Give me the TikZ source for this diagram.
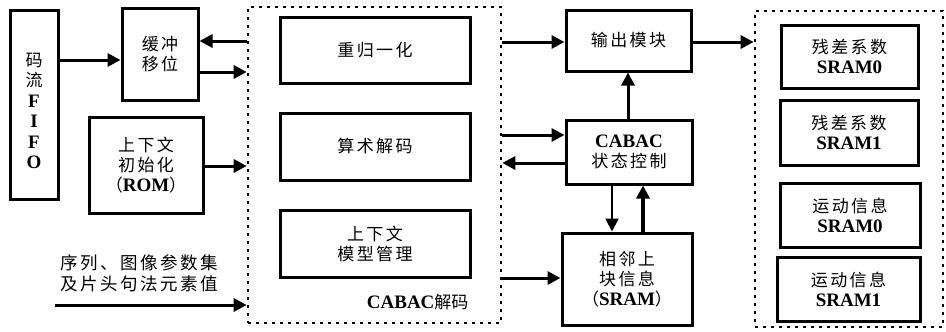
\documentclass[tikz,border=0pt]{standalone}
\usepackage{fontspec}
\setmainfont{Liberation Serif}
\newfontfamily\cjk[LetterSpace=14]{Noto Sans CJK SC}
\newfontfamily\cjktight{Noto Sans CJK SC}
\usetikzlibrary{arrows.meta,calc}
\newcommand{\zh}[1]{{\cjk #1}}
\newcommand{\la}[1]{{\fontsize{19}{20}\selectfont\bfseries #1}}
\tikzset{
  blk/.style={draw, line width=3pt, inner sep=0pt, align=center,
    font=\fontsize{17}{20}\selectfont},
  dotbox/.style={draw, line width=2.6pt, dash pattern=on 2.6pt off 5.4pt, inner sep=0pt},
  conn/.style={line width=3pt, -{Triangle[length=13pt,width=13pt]}},
  txt/.style={align=center, inner sep=0pt, font=\fontsize{17}{20.5}\selectfont},
}
\begin{document}
\begin{tikzpicture}[x=1pt,y=-1pt]
\useasboundingbox (0,0) rectangle (946,332);
% left column
\node[blk, minimum width=48pt, minimum height=189pt] (fifo) at (34,104.5) {};
\node[txt] (fifotext) at (34,111)
  {\zh{码}\\\zh{流}\\\la{F}\\\la{I}\\\la{F}\\\la{O}};
\node[blk, minimum width=76pt, minimum height=92pt] (buf) at (160,54)
  {\zh{缓冲}\\\zh{移位}};
\node[blk, minimum width=114pt, minimum height=96pt] (ctx) at (146,165)
  {\zh{上下文}\\\zh{初始化}\\\zh{（}\la{ROM}\zh{）}};
\node[align=center, font=\fontsize{17.5}{21}\selectfont] (seq) at (139,273)
  {\zh{序列、图像参数集}\\\zh{及片头句法元素值}};
\coordinate (seqstart) at (55,305);
% CABAC decoding block
\node[dotbox, minimum width=253pt, minimum height=316pt] (cabac) at (374.5,165) {};
\node[blk, minimum width=190pt, minimum height=66pt] (renorm) at (375,50) {\zh{重归一化}};
\node[blk, minimum width=190pt, minimum height=67pt] (arith) at (375,146.5) {\zh{算术解码}};
\node[blk, minimum width=190pt, minimum height=67pt] (model) at (375,243.5)
  {\zh{上下文}\\\zh{模型管理}};
\node[anchor=east, font=\fontsize{17}{20}\selectfont] (cablabel) at (472,302)
  {\la{CABAC}{\cjktight 解码}};
% middle right
\node[blk, minimum width=125pt, minimum height=61pt] (out) at (628.5,40.5) {\zh{输出模块}};
\node[blk, minimum width=126pt, minimum height=64pt] (state) at (629,152)
  {\la{CABAC}\\\zh{状态控制}};
\node[blk, minimum width=130pt, minimum height=92pt] (adj) at (627,279)
  {\zh{相邻上}\\\zh{块信息}\\\zh{（}\la{SRAM}\zh{）}};
% right SRAM block
\node[dotbox, minimum width=188pt, minimum height=316pt] (rbox) at (849,169) {};
\node[blk, minimum width=137pt, minimum height=63pt] (r1) at (849.5,56.5)
  {\zh{残差系数}\\\la{SRAM0}};
\node[blk, minimum width=138pt, minimum height=65pt] (r2) at (849,132.5)
  {\zh{残差系数}\\\la{SRAM1}};
\node[blk, minimum width=140pt, minimum height=64pt] (r3) at (850,215)
  {\zh{运动信息}\\\la{SRAM0}};
\node[blk, minimum width=143pt, minimum height=64pt] (r4) at (848.5,289)
  {\zh{运动信息}\\\la{SRAM1}};
% connectors
\draw[conn] (fifo.east |- 0,60) -- (buf.west |- 0,60);
\draw[conn] (cabac.west |- 0,41) -- (buf.east |- 0,41);
\draw[conn] (buf.east |- 0,72) -- (cabac.west |- 0,72);
\draw[conn] (ctx.east |- 0,166) -- (cabac.west |- 0,166);
\draw[conn] (seqstart) -- (cabac.west |- seqstart);
\draw[conn] (cabac.east |- 0,42) -- (out.west |- 0,42);
\draw[conn] (cabac.east |- 0,135) -- (state.west |- 0,135);
\draw[conn] (state.west |- 0,163) -- (cabac.east |- 0,163);
\draw[conn] (cabac.east |- 0,278) -- (adj.west |- 0,278);
\draw[conn] (state.north -| 628,0) -- (out.south -| 628,0);
\draw[conn, line width=2.4pt] (state.south -| 612,0) -- (adj.north -| 612,0);
\draw[conn, line width=3.8pt] (adj.north -| 643,0) -- (state.south -| 643,0);
\draw[conn] (out.east |- 0,42) -- (rbox.west |- 0,42);
\end{tikzpicture}
\end{document}
